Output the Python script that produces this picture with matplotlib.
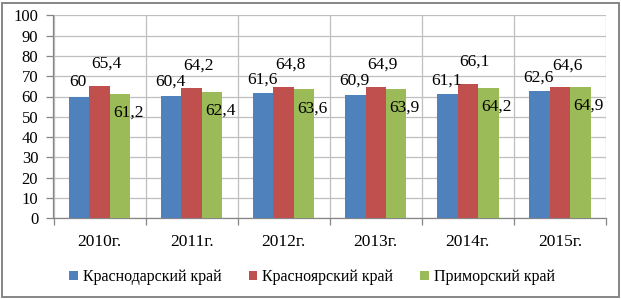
import matplotlib
matplotlib.use("Agg")
import matplotlib.pyplot as plt
from matplotlib.patches import Rectangle
import numpy as np

categories = ["2010г.", "2011г.", "2012г.", "2013г.", "2014г.", "2015г."]
series_names = ["Краснодарский край", "Красноярский край", "Приморский край"]
krasnodar = [60, 60.4, 61.6, 60.9, 61.1, 62.6]
krasnoyarsk = [65.4, 64.2, 64.8, 64.9, 66.1, 64.6]
primorsky = [61.2, 62.4, 63.6, 63.9, 64.2, 64.9]
yticks = [0, 10, 20, 30, 40, 50, 60, 70, 80, 90, 100]

colors = ["#4F81BD", "#C0504D", "#9BBB59"]
# label offsets in pixels (dx, dy) from bar top center
label_offsets = [(-1, 14), (7, 22), (8, -19)]

plt.rcParams['font.family'] = ['Liberation Serif', 'DejaVu Serif']

W, H = 621, 299
fig = plt.figure(figsize=(W / 100, H / 100), dpi=100)
ax_left, ax_right = 53.5, 606
ax_top, ax_bottom = 15.3, 218.3
ax = fig.add_axes([ax_left / W, 1 - ax_bottom / H, (ax_right - ax_left) / W, (ax_bottom - ax_top) / H])

x = np.arange(len(categories))
bw = 1 / 4.5
data = [krasnodar, krasnoyarsk, primorsky]
bars_all = []
for i, (vals, c, name) in enumerate(zip(data, colors, series_names)):
    pos = x + (i - 1) * bw
    bars = ax.bar(pos, vals, width=bw, color=c, label=name, zorder=3, linewidth=0)
    bars_all.append(bars)
    dx, dy = label_offsets[i]
    for p, v in zip(pos, vals):
        txt = f"{v:g}".replace(".", ",")
        ax.annotate(txt, (p, v), xytext=(dx, dy), textcoords="offset pixels",
                    ha="center", va="center", fontsize=12.5, color="#000000", zorder=5)

ax.set_xlim(-0.5, len(categories) - 0.5)
ax.set_ylim(0, 100)
ax.set_yticks(yticks)
ax.set_yticklabels([str(t) for t in yticks], fontsize=12)
ax.set_xticks(x)
ax.set_xticklabels(categories, fontsize=12.5)
ax.set_xticks(np.arange(-0.5, len(categories)), minor=True)

grid_c = "#BFBFBF"
ax.grid(axis="y", color=grid_c, linewidth=0.9, zorder=0)
ax.grid(axis="x", which="minor", color=grid_c, linewidth=0.9, zorder=0)
ax.tick_params(axis="x", which="major", length=0, pad=11)
ax.tick_params(axis="x", which="minor", length=5, color="#868686", width=0.9)
ax.tick_params(axis="y", length=5, color="#868686", width=0.9, pad=6)

for s in ["top", "right"]:
    ax.spines[s].set_visible(False)
for s in ["left", "bottom"]:
    ax.spines[s].set_color("#868686")
    ax.spines[s].set_linewidth(0.9)

leg = fig.legend(handles=bars_all, labels=series_names, loc="center",
                 bbox_to_anchor=(312 / W, 1 - 277 / H), ncol=3, frameon=False,
                 fontsize=11.5, handlelength=0.55, handleheight=0.55, handletextpad=0.3,
                 columnspacing=1.7, borderpad=0)

fig.patches.append(Rectangle((2 / W, 2.5 / H), 617 / W, 294 / H, transform=fig.transFigure,
                             fill=False, edgecolor="#868686", linewidth=1.4))

fig.savefig("out.png", dpi=100)
